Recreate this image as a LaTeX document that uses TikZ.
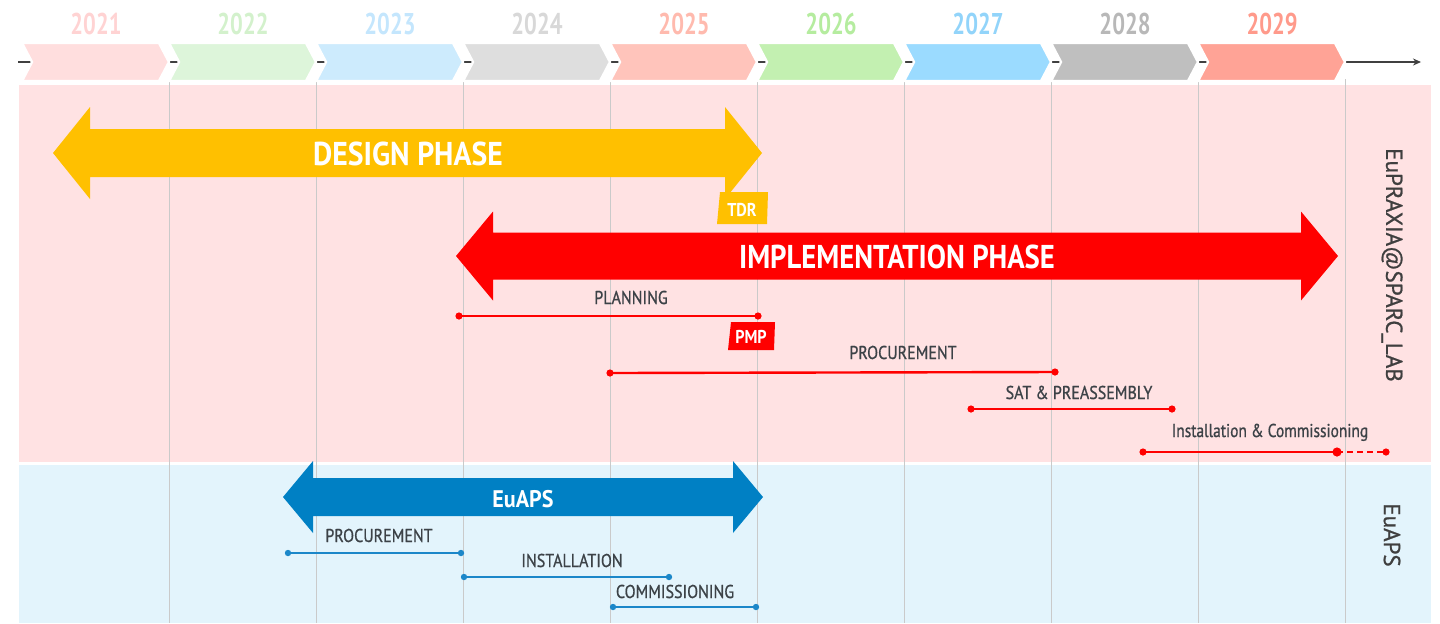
\documentclass[tikz,border=0pt]{standalone}
\usepackage{graphicx}
\usepackage{fontspec}
\setmainfont{PT Sans}
\newfontfamily\medfont[FakeBold=0.9]{PT Sans}
\usetikzlibrary{arrows.meta}

% palette
\definecolor{bandpink}{HTML}{FFE2E3}
\definecolor{bandblue}{HTML}{E3F4FC}
\definecolor{gridgrey}{HTML}{CACACA}
\definecolor{axisgrey}{HTML}{404040}
\definecolor{designyel}{HTML}{FFC000}
\definecolor{implred}{HTML}{FF0000}
\definecolor{euapsblue}{HTML}{0080C4}
\definecolor{barblue}{HTML}{1C87C9}
\definecolor{labelgrey}{HTML}{3C4247}
\definecolor{sidegrey}{HTML}{3F3F3F}
% year chevrons (fill / label)
\definecolor{cA}{HTML}{FFDEDE}\definecolor{tA}{HTML}{FFD3D3}
\definecolor{cB}{HTML}{DDF5DA}\definecolor{tB}{HTML}{D3F1CC}
\definecolor{cC}{HTML}{CDEBFD}\definecolor{tC}{HTML}{C4E6FD}
\definecolor{cD}{HTML}{DEDEDE}\definecolor{tD}{HTML}{D8D8D8}
\definecolor{cE}{HTML}{FFC4BB}\definecolor{tE}{HTML}{FFBAAE}
\definecolor{cF}{HTML}{C3F0B1}\definecolor{tF}{HTML}{B5EC9F}
\definecolor{cG}{HTML}{9BDBFF}\definecolor{tG}{HTML}{92D4FA}
\definecolor{cH}{HTML}{BFBFBF}\definecolor{tH}{HTML}{B8B8B8}
\definecolor{cI}{HTML}{FFA396}\definecolor{tI}{HTML}{FF9A8B}

% horizontally condensed text
\newcommand{\cnd}[2][0.85]{\scalebox{#1}[1]{#2}}

% double-headed phase arrow: colour, left tip x, right tip x, centre y,
% shaft half height, head half height, head length
\newcommand{\phasearrow}[7]{%
  \fill[#1] (#2,#4) -- ({#2+#7},{#4-#6}) -- ({#2+#7},{#4-#5})
    -- ({#3-#7},{#4-#5}) -- ({#3-#7},{#4-#6}) -- (#3,#4)
    -- ({#3-#7},{#4+#6}) -- ({#3-#7},{#4+#5}) -- ({#2+#7},{#4+#5})
    -- ({#2+#7},{#4+#6}) -- cycle;}

\tikzset{
  yearlbl/.style={font=\fontsize{15}{15}\selectfont\bfseries, inner sep=0pt, anchor=base},
  phaselbl/.style={font=\fontsize{16.5}{16.5}\selectfont\bfseries, text=white, inner sep=0pt, anchor=base},
  taglbl/.style={font=\fontsize{9.3}{9.3}\selectfont\bfseries, text=white, inner sep=0pt, anchor=base},
  tasklbl/.style={font=\fontsize{9.3}{9.3}\selectfont\medfont, text=labelgrey, inner sep=0pt, anchor=base},
  sidelbl/.style={font=\fontsize{11.5}{11.5}\selectfont\medfont, text=sidegrey, inner sep=0pt, rotate=-90},
  gridline/.style={draw=gridgrey, line width=0.5pt},
  redbar/.style={draw=implred, line width=1.2pt},
  bluebar/.style={draw=barblue, line width=1pt},
  reddot/.style={fill=implred},
  bluedot/.style={fill=barblue},
}

\begin{document}
\begin{tikzpicture}[x=0.5pt, y=-0.5pt]
\useasboundingbox (0,0) rectangle (1440,623);

% programme bands
\fill[bandpink] (19,85) rectangle (1431,462);
\fill[bandblue] (19,465) rectangle (1431,623);

% year boundaries
\foreach \k in {1,...,9}
  \draw[gridline] ({22+147*\k},79) -- ({22+147*\k},623);

% time axis
\coordinate (axs) at (18,62);
\coordinate (axe) at (1421,62);
\draw[axisgrey, line width=0.7pt, -{Stealth[length=4pt,width=3.5pt]}] (axs) -- (axe);

% year chevrons
\foreach \yr/\fc/\tc [count=\i from 0] in
  {2021/cA/tA, 2022/cB/tB, 2023/cC/tC, 2024/cD/tD, 2025/cE/tE,
   2026/cF/tF, 2027/cG/tG, 2028/cH/tH, 2029/cI/tI} {
  \pgfmathsetmacro\xa{22+147*\i}
  \pgfmathsetmacro\xb{\xa+147}
  \filldraw[fill=\fc, draw=white, line width=1.2pt, line join=miter]
    (\xa,43) -- ({\xb-10},43) -- (\xb,62) -- ({\xb-10},81) -- (\xa,81)
    -- ({\xa+10},62) -- cycle;
  \node[yearlbl, text=\tc] (y\yr) at ({\xa+74},34) {\cnd[0.75]{\yr}};
}

% phase arrows
\phasearrow{designyel}{53}{762}{153}{24}{46}{37}
\node[phaselbl] (design) at (408,165) {\cnd[0.9]{DESIGN PHASE}};

\phasearrow{implred}{456}{1338}{256}{23.5}{44.5}{37}
\node[phaselbl] (impl) at (897,268) {\cnd[0.87]{IMPLEMENTATION PHASE}};

\phasearrow{euapsblue}{283}{763}{497}{19}{36}{30}
\node[phaselbl, font=\fontsize{12}{12}\selectfont\bfseries] (euaps) at (523,507) {\cnd[0.92]{EuAPS}};

% milestone tags
\fill[designyel] (720,192) -- (768,192) -- (767,224) -- (717,224) -- cycle;
\node[taglbl] (tdr) at (742,216) {\cnd[0.87]{TDR}};
\fill[implred] (731,322) -- (775,322) -- (774,350) -- (728,350) -- cycle;
\node[taglbl] (pmp) at (751,343) {\cnd[0.87]{PMP}};

% EuPRAXIA tasks
\coordinate (plA) at (459,316);  \coordinate (plB) at (758,316);
\draw[redbar] (plA) -- (plB);
\fill[reddot] (plA) circle (1.8pt) (plB) circle (1.8pt);
\node[tasklbl] (planning) at (631,304) {\cnd[0.86]{PLANNING}};

\coordinate (prA) at (610,373);  \coordinate (prB) at (1055,372);
\draw[redbar] (prA) -- (prB);
\fill[reddot] (prA) circle (1.8pt) (prB) circle (1.8pt);
\node[tasklbl] (procR) at (903,359) {\cnd[0.86]{PROCUREMENT}};

\coordinate (saA) at (971,409);  \coordinate (saB) at (1172,409);
\draw[redbar] (saA) -- (saB);
\fill[reddot] (saA) circle (1.8pt) (saB) circle (1.8pt);
\node[tasklbl] (sat) at (1079,399) {\cnd[0.86]{SAT \& PREASSEMBLY}};

\coordinate (icA) at (1143,452); \coordinate (icB) at (1337,452);
\coordinate (icC) at (1386,452);
\draw[redbar] (icA) -- (icB);
\draw[redbar, dash pattern=on 3pt off 2pt] (icB) -- (icC);
\fill[reddot] (icA) circle (1.8pt) (icB) circle (2.3pt) (icC) circle (1.8pt);
\node[tasklbl] (instcomm) at (1270,437) {\cnd[0.83]{Installation \& Commissioning}};

% EuAPS tasks
\coordinate (bpA) at (288,553);  \coordinate (bpB) at (461,553);
\draw[bluebar] (bpA) -- (bpB);
\fill[bluedot] (bpA) circle (1.6pt) (bpB) circle (1.6pt);
\node[tasklbl] (procB) at (379,542) {\cnd[0.86]{PROCUREMENT}};

\coordinate (biA) at (464,577);  \coordinate (biB) at (669,577);
\draw[bluebar] (biA) -- (biB);
\fill[bluedot] (biA) circle (1.6pt) (biB) circle (1.6pt);
\node[tasklbl] (inst) at (572,567) {\cnd[0.86]{INSTALLATION}};

\coordinate (bcA) at (613,607);  \coordinate (bcB) at (756,607);
\draw[bluebar] (bcA) -- (bcB);
\fill[bluedot] (bcA) circle (1.6pt) (bcB) circle (1.6pt);
\node[tasklbl] (comm) at (675,598) {\cnd[0.86]{COMMISSIONING}};

% programme names
\node[sidelbl] (sparc) at (1392,265) {EuPRAXIA@SPARC\_LAB};
\node[sidelbl] (euapsside) at (1392,535) {EuAPS};
\end{tikzpicture}
\end{document}
